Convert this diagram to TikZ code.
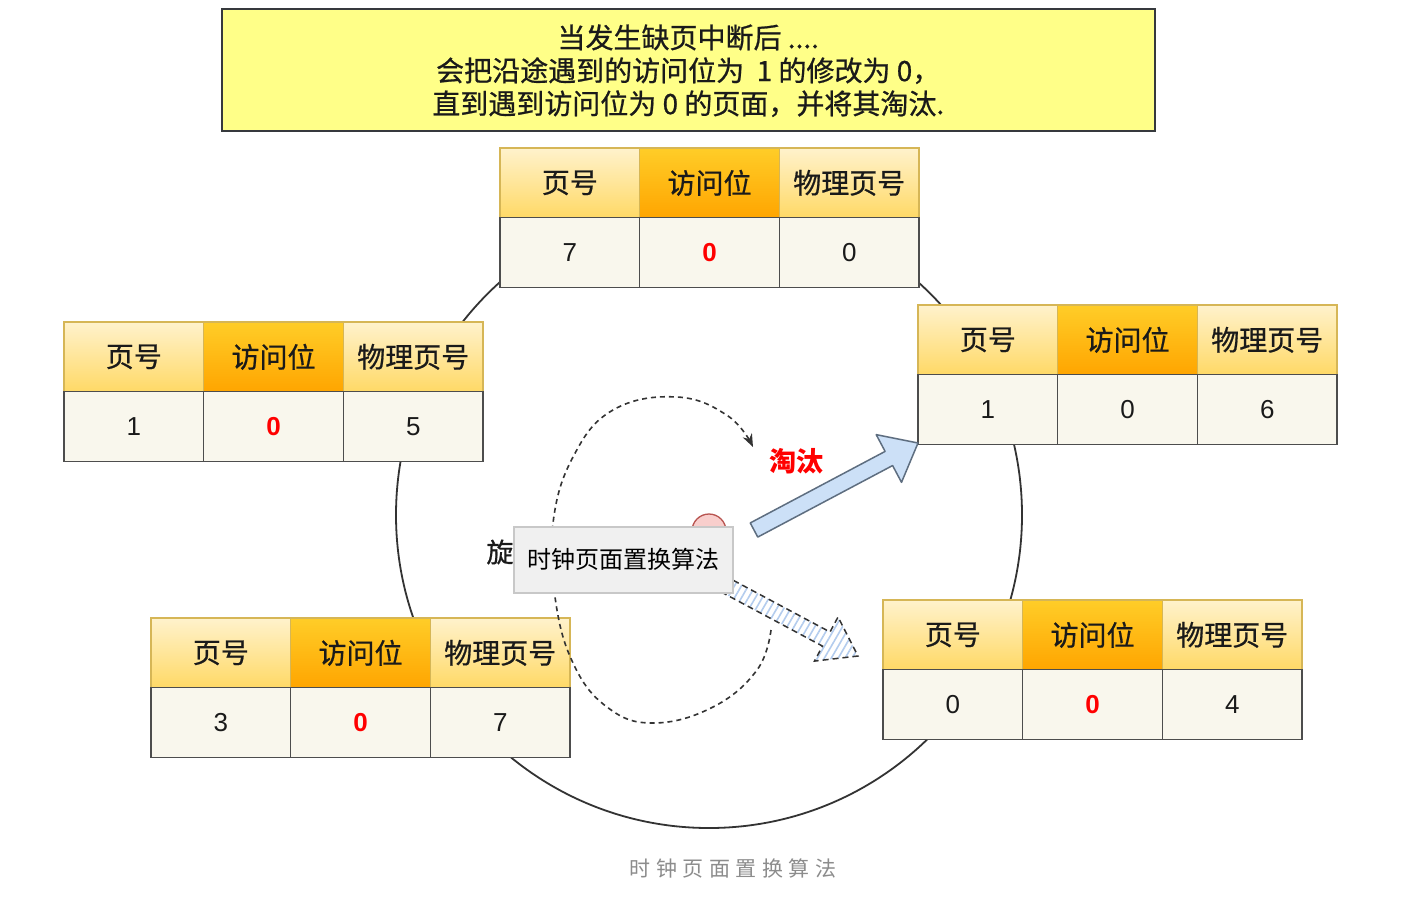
\documentclass[tikz,border=0pt]{standalone}
\usepackage{fontspec}
\setmainfont{Noto Sans CJK SC}
\newfontfamily\cjkheavy{Noto Sans CJK SC}[FakeBold=0.7]
\newfontfamily\arialf{Liberation Sans}
\usetikzlibrary{calc,patterns.meta,arrows.meta}
\definecolor{hdrtop}{HTML}{FFF2CC}
\definecolor{hdrbot}{HTML}{FFD966}
\definecolor{midtop}{HTML}{FFCD28}
\definecolor{midbot}{HTML}{FFA500}
\definecolor{hdrline}{HTML}{D6B656}
\definecolor{datafill}{HTML}{F9F7ED}
\definecolor{dataline}{HTML}{4D4D4D}
\definecolor{zred}{HTML}{FF0000}
\definecolor{txt}{HTML}{1A1A1A}
\definecolor{boxfill}{HTML}{FFFF88}
\definecolor{boxline}{HTML}{36393D}
\definecolor{tipfill}{HTML}{F0F0F0}
\definecolor{tipline}{HTML}{C8C8C8}
\definecolor{capgray}{HTML}{8C8C8C}
\definecolor{pinkfill}{HTML}{F8CECC}
\definecolor{pinkline}{HTML}{B85450}
\definecolor{bluefill}{HTML}{CCE0F7}
\definecolor{blueline}{HTML}{5E6E80}
\definecolor{hatch}{HTML}{B3CCEE}
\definecolor{circline}{HTML}{333333}
\tikzset{
  cellbase/.style={minimum width=139.7pt, minimum height=69.7pt, inner sep=0pt, outer sep=0pt, anchor=north west, line width=1.4pt, text=txt},
  hcell/.style={cellbase, draw=hdrline, top color=hdrtop, bottom color=hdrbot, font=\cjkheavy\fontsize{28}{32}\selectfont},
  hcellmid/.style={cellbase, draw=hdrline, top color=midtop, bottom color=midbot, font=\cjkheavy\fontsize{28}{32}\selectfont},
  dcell/.style={cellbase, draw=dataline, fill=datafill, font=\arialf\fontsize{26}{30}\selectfont},
  bigring/.style={draw=circline, line width=1.8pt},
  blockarrow/.style={fill=bluefill, draw=blueline, line width=1.5pt, line join=round},
  hatcharrow/.style={pattern={Lines[angle=60,distance=6pt,line width=1.6pt]}, pattern color=hatch, draw=circline, dashed, dash pattern=on 6pt off 4pt, line width=1.5pt},
  dashcurve/.style={draw=circline, dash pattern=on 5pt off 4pt, line width=1.6pt, -{Stealth[length=13pt,width=10pt]}},
}
\newcommand\redz{\textcolor{zred}{\bfseries 0}}
\newcommand\ptable[6]{%
  \coordinate (#1-o) at (#2,#3);
  \node[hcell] (#1-h1) at (#1-o) {页号};
  \node[hcellmid] (#1-h2) at ([xshift=139.7pt]#1-o) {访问位};
  \node[hcell] (#1-h3) at ([xshift=279.4pt]#1-o) {物理页号};
  \node[dcell] (#1-d1) at ([yshift=-69.7pt]#1-o) {#4};
  \node[dcell] (#1-d2) at ([xshift=139.7pt,yshift=-69.7pt]#1-o) {#5};
  \node[dcell] (#1-d3) at ([xshift=279.4pt,yshift=-69.7pt]#1-o) {#6};
}
\begin{document}
\begin{tikzpicture}[x=1pt,y=-1pt]
\fill[white] (0,0) rectangle (1413,898);
\useasboundingbox (0,0) rectangle (1413,898);

% big clock ring
\node[circle, minimum size=626pt, inner sep=0pt, bigring] (ring) at (709,515) {};

% tables
\ptable{tt}{500}{148}{7}{\redz}{0}
\ptable{lt}{64}{322}{1}{\redz}{5}
\ptable{rt}{918}{305}{1}{0}{6}
\ptable{bl}{151}{618}{3}{\redz}{7}
\ptable{br}{883}{600}{0}{\redz}{4}

% dashed rotation curve
\draw[dashcurve] plot[smooth, tension=0.7] coordinates {(771,630) (757,670) (713,707) (653,723) (607,707) (573,663) (555,597) (553,523) (573,457) (613,410) (677,397) (728,416) (753,447)};

% pointer hub
\node[circle, draw=pinkline, fill=pinkfill, minimum size=34pt, line width=1.3pt] (hub) at (709,531) {};

% blue arrow (evict)
\coordinate (bt) at (754,530);
\coordinate (bp) at (918,443);
\coordinate (bh) at ($(bp)!33pt!(bt)$);
\draw[blockarrow] ($(bt)!8pt!90:(bp)$) -- ($(bh)!8pt!-90:(bt)$) -- ($(bh)!27pt!-90:(bt)$) -- (bp) -- ($(bh)!27pt!90:(bt)$) -- ($(bh)!8pt!90:(bt)$) -- ($(bt)!8pt!-90:(bp)$) -- cycle;

% hatched arrow
\coordinate (ht) at (712,578);
\coordinate (hp) at (858,656);
\coordinate (hh) at ($(hp)!36pt!(ht)$);
\draw[hatcharrow] ($(ht)!8pt!90:(hp)$) -- ($(hh)!8pt!-90:(ht)$) -- ($(hh)!25pt!-90:(ht)$) -- (hp) -- ($(hh)!25pt!90:(ht)$) -- ($(hh)!8pt!90:(ht)$) -- ($(ht)!8pt!-90:(hp)$) -- cycle;

% labels
\node[font=\cjkheavy\fontsize{27}{30}\selectfont, text=txt, inner sep=0pt] (rot) at (500,552) {旋};
\node[draw=tipline, fill=tipfill, line width=1.5pt, minimum width=219pt, minimum height=66pt, anchor=north west, inner sep=0pt, font=\fontsize{24}{28}\selectfont, text=black] (tip) at (513,526) {时钟页面置换算法};
\node[font=\fontsize{27}{30}\selectfont\bfseries, text=zred, inner sep=0pt] (evict) at (796,461) {淘汰};

% note box
\node[draw=boxline, fill=boxfill, line width=1.5pt, minimum width=933pt, minimum height=122pt, anchor=north west, inner sep=0pt] (note) at (221,8) {};
\node[align=center, font=\cjkheavy\fontsize{28}{33}\selectfont, text=txt, inner sep=0pt] (notetext) at ([yshift=-1pt]note.center) {当发生缺页中断后 ....\\会把沿途遇到的访问位为 \ 1 的修改为 0，\\直到遇到访问位为 0 的页面，并将其淘汰.};

% caption
\node[font=\fontsize{21}{24}\selectfont\addfontfeature{LetterSpace=26}, text=capgray, inner sep=0pt] (cap) at (733,868) {时钟页面置换算法};
\end{tikzpicture}
\end{document}
